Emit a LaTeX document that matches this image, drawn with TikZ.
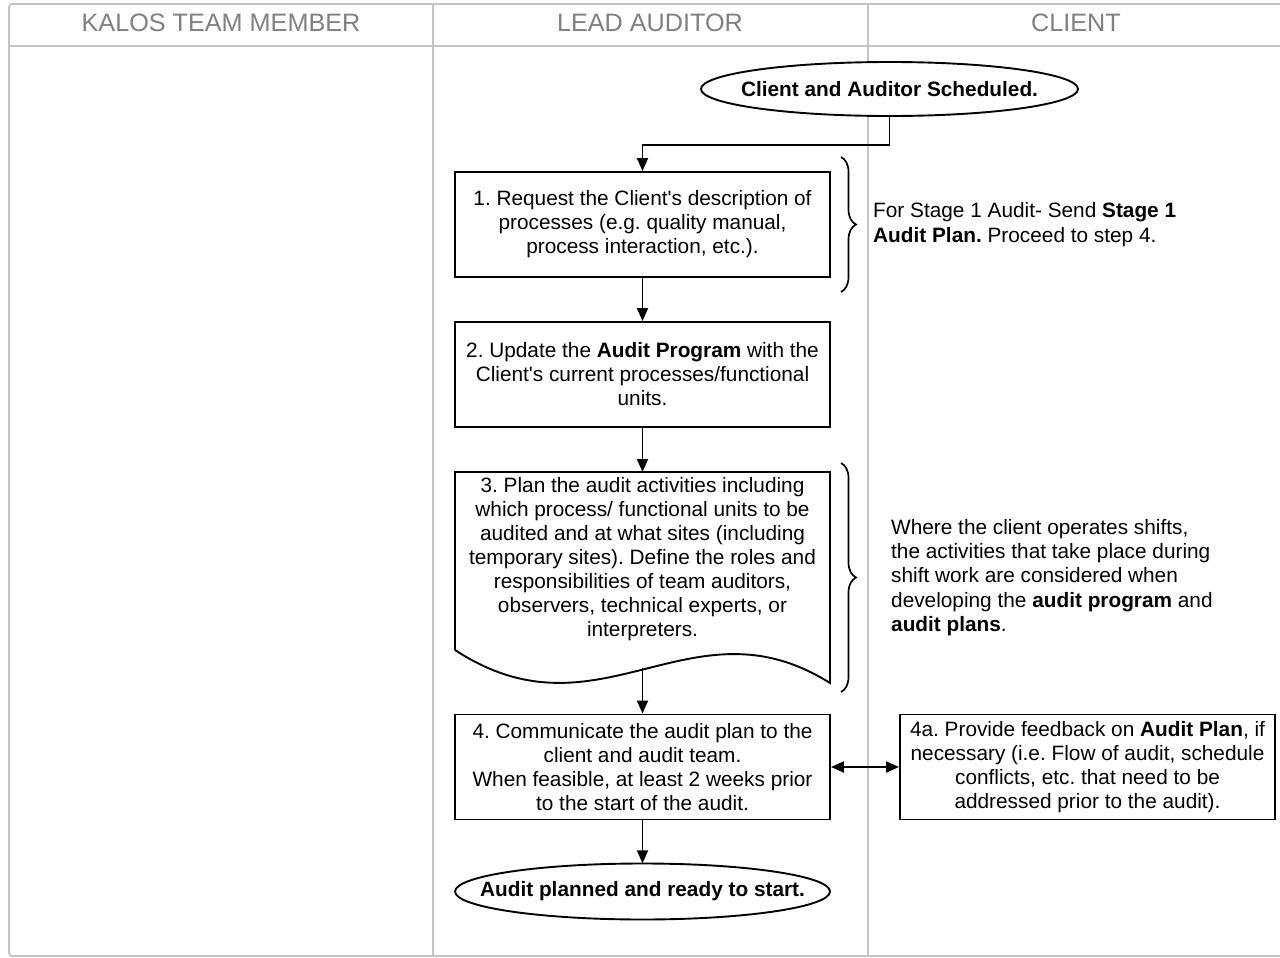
\documentclass[tikz,border=0pt]{standalone}
\usepackage{fontspec}
\setmainfont{Liberation Sans}
\usetikzlibrary{arrows.meta,decorations.pathreplacing,shapes.geometric}
\definecolor{lane}{HTML}{C4C4C4}
\definecolor{headtxt}{HTML}{808080}
\newcommand{\ap}{\textquotesingle}
\begin{document}
\frenchspacing
\begin{tikzpicture}[x=1pt,y=-1pt,
  lanel/.style={draw=lane,line width=1.8pt},
  head/.style={font=\fontsize{25.2}{28}\selectfont,text=headtxt},
  box/.style={draw,line width=1.9pt,minimum width=375pt,minimum height=105pt,align=center,font=\fontsize{20.8}{24}\selectfont,inner sep=1pt},
  ovaltext/.style={font=\bfseries\fontsize{20.8}{24}\selectfont,inner sep=0pt,minimum width=375pt,minimum height=55pt},
  ovalline/.style={draw,line width=1.9pt},
  txt/.style={align=left,font=\fontsize{20.8}{24.3}\selectfont,inner sep=0pt,anchor=west},
  flow/.style={line width=1.9pt,-{Triangle[length=13pt,width=11pt]}},
  brc/.style={line width=1.7pt,decorate,decoration={brace,amplitude=15pt,aspect=0.5}}]
\useasboundingbox (0,0) rectangle (1280,958);
% lanes
\draw[lanel,rounded corners=3pt] (1282,4) -- (9,4) -- (9,956) -- (1282,956);
\draw[lanel] (9,46) -- (1282,46);
\draw[lanel] (433,4) -- (433,956);
\draw[lanel] (868,4) -- (868,956);
\node[head] (h1) at (221,23) {KALOS TEAM MEMBER};
\node[head] (h2) at (650,23) {LEAD AUDITOR};
\node[head] (h3) at (1076,23) {CLIENT};
% nodes
\fill[white] (889.5,89) ellipse (188.5 and 27);
\draw[ovalline] (889.5,89) ellipse (188.5 and 27);
\node[ovaltext,minimum width=377pt,minimum height=54pt] (start) at (889.5,89) {Client and Auditor Scheduled.};
\node[box] (b1) at (642.5,224.5) {1. Request the Client\ap s description of\\processes (e.g. quality manual,\\process interaction, etc.).};
\node[box] (b2) at (642.5,374.5) {2. Update the \textbf{Audit Program} with the\\Client\ap s current processes/functional\\units.};
\node[align=center,font=\fontsize{20.8}{24}\selectfont,inner sep=0pt] (b3) at (642.5,559) {3. Plan the audit activities including\\which process/ functional units to be\\audited and at what sites (including\\temporary sites). Define the roles and\\responsibilities of team auditors,\\observers, technical experts, or\\interpreters.};
\draw[line width=1.9pt] (455,650) -- (455,472) -- (830,472) -- (830,683)
  .. controls (690,595) and (600,745) .. (455,650);
\coordinate (b3out) at (642.5,668);
\node[box] (b4) at (642.5,767) {4. Communicate the audit plan to the\\client and audit team.\\When feasible, at least 2 weeks prior\\to the start of the audit.};
\node[box] (b4a) at (1087.5,767) {4a. Provide feedback on \textbf{Audit Plan}, if\\necessary (i.e. Flow of audit, schedule\\conflicts, etc. that need to be\\addressed prior to the audit).};
\draw[ovalline] (642.5,891.5) ellipse (187.5 and 28);
\node[ovaltext,minimum height=56pt] (end) at (642.5,891.5) {Audit planned and ready to start.};
% connectors
\draw[flow] (start.south) |- (642.5,145) -- (b1.north);
\draw[flow] (b1) -- (b2);
\draw[flow] (b2.south) -- (642.5,472);
\draw[flow] (b3out) -- (b4.north);
\draw[flow] (b4) -- (end);
\draw[line width=1.9pt,{Triangle[length=13pt,width=11pt]}-{Triangle[length=13pt,width=11pt]}] (b4.east) -- (b4a.west);
% braces
\coordinate (br1a) at (841,157);
\coordinate (br1b) at (841,292);
\draw[brc] (br1a) -- (br1b);
\node[txt] (n1) at (873,224.5) {For Stage 1 Audit- Send \textbf{Stage 1}\\\textbf{Audit Plan.} Proceed to step 4.};
\coordinate (br2a) at (841,463);
\coordinate (br2b) at (841,692);
\draw[brc] (br2a) -- (br2b);
\node[txt] (n2) at (891,577.5) {Where the client operates shifts,\\the activities that take place during\\shift work are considered when\\developing the \textbf{audit program} and\\\textbf{audit plans}.};
\end{tikzpicture}
\end{document}
